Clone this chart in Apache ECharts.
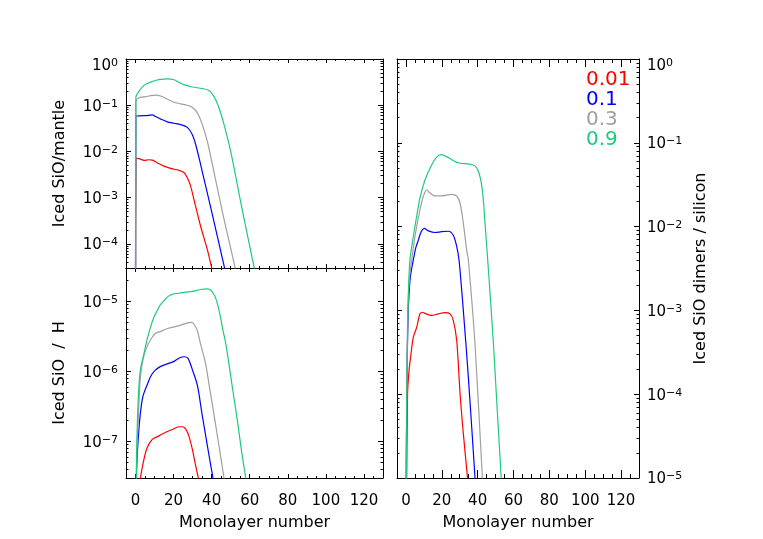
<!DOCTYPE html>
<html>
<head>
<meta charset="utf-8">
<title>Iced SiO vs monolayer number</title>
<script src="https://cdn.jsdelivr.net/npm/echarts@6/dist/echarts.min.js"></script>
<style>
  html, body { margin: 0; padding: 0; background: #fff; }
  #chart { width: 763px; height: 539px; }
</style>
</head>
<body>
<div id="chart"></div>
<script>
const FONT = 'DejaVu Sans';
const sizes = ['0.01', '0.1', '0.3', '0.9'];
const colors = ['#ff0000', '#0000ff', '#a0a0a0', '#1ecb7a'];

// top left: iced SiO / mantle
const mantleX001 = [0, 0.2, 0.9, 2.6, 4.4, 7, 8.8, 11.4, 14.9, 18.4, 22.8, 25.4, 27.2, 28.9, 30.7, 34.2, 37.7, 39.8, 42];
const mantleY001 = [3.2e-6, 6.9e-3, 7.1e-3, 6.8e-3, 6.4e-3, 6.6e-3, 6.5e-3, 5.7e-3, 4.8e-3, 4.3e-3, 3.9e-3, 3.5e-3, 2.7e-3, 1.8e-3, 9.1e-4, 2.4e-4, 7.6e-5, 3.3e-5, 1.4e-5];
const mantleX01 = [0, 0.2, 2.6, 5.3, 8.8, 10.5, 13.2, 16.7, 20.2, 23.7, 27.2, 29.8, 31.6, 34.2, 40, 46.7, 49];
const mantleY01 = [3.2e-6, 0.0575, 0.0589, 0.0596, 0.0617, 0.0569, 0.0501, 0.0437, 0.0407, 0.038, 0.0331, 0.0232, 0.0141, 5.2e-3, 5.0e-4, 3.1e-5, 1.26e-5];
const mantleX03 = [0, 0.2, 1.8, 4.4, 7, 10.5, 13.2, 16.7, 20.2, 23.7, 27.2, 29.8, 32.5, 35.1, 37.7, 40.4, 46, 52.3, 55];
const mantleY03 = [3.2e-6, 0.122, 0.145, 0.151, 0.158, 0.166, 0.158, 0.136, 0.116, 0.107, 0.1, 0.09, 0.0676, 0.038, 0.0166, 5.2e-3, 4.2e-4, 3.1e-5, 1e-5];
const mantleX09 = [0, 0.2, 1.8, 4.4, 7.9, 11.4, 14, 16.7, 20.2, 23, 25.4, 29.8, 35.1, 38.6, 41.2, 43.9, 46.5, 50, 56, 62.3, 65];
const mantleY09 = [3.2e-6, 0.151, 0.2, 0.269, 0.316, 0.351, 0.363, 0.372, 0.355, 0.309, 0.279, 0.248, 0.229, 0.207, 0.155, 0.0871, 0.038, 0.01, 5.6e-4, 3.1e-5, 8.9e-6];

// bottom left: iced SiO / H
const hX001 = [0, 1, 2, 2.6, 4.4, 6.1, 8.8, 12.3, 15.8, 19.3, 22.8, 24.6, 26.3, 28, 29.8, 31.6, 33, 35];
const hY001 = [1e-9, 6.3e-9, 1.78e-8, 3.0e-8, 5.5e-8, 8.1e-8, 1.07e-7, 1.2e-7, 1.35e-7, 1.48e-7, 1.62e-7, 1.62e-7, 1.51e-7, 1.2e-7, 7.8e-8, 4.5e-8, 3.0e-8, 1.58e-8];
const hX01 = [0, 0.5, 1, 2, 3, 4, 6, 8, 10, 13, 16, 20, 23, 25.5, 27.5, 29.8, 32.5, 35, 38, 40.7, 43];
const hY01 = [1e-9, 3.16e-8, 7.1e-8, 1.78e-7, 3.16e-7, 4.5e-7, 6.3e-7, 8.5e-7, 1.02e-6, 1.17e-6, 1.26e-6, 1.38e-6, 1.55e-6, 1.62e-6, 1.55e-6, 1.07e-6, 6.3e-7, 2.4e-7, 7.9e-8, 3.0e-8, 1.41e-8];
const hX03 = [0, 0.5, 1, 2, 2.6, 4, 6, 8.5, 10.5, 13, 16.7, 23, 27, 29.5, 31, 32.5, 34.2, 36.8, 38.6, 42, 46.5, 49];
const hY03 = [1e-9, 4.0e-8, 1.12e-7, 4.5e-7, 8.5e-7, 1.51e-6, 2.24e-6, 3.0e-6, 3.5e-6, 3.7e-6, 4.1e-6, 4.5e-6, 4.9e-6, 5.0e-6, 4.6e-6, 3.8e-6, 2.45e-6, 1.29e-6, 6.6e-7, 1.78e-7, 3.0e-8, 1.12e-8];
const hX09 = [0, 0.5, 1, 1.8, 2.6, 4.4, 6, 7.9, 9.5, 11.4, 13, 14.9, 17, 19.3, 23.7, 28.9, 34.2, 37.4, 39, 40.4, 41.8, 43, 44.3, 45.6, 47.4, 49.1, 51, 53.5, 55.5, 57.9, 60];
const hY09 = [1e-9, 5.0e-8, 2.0e-7, 6.3e-7, 1.07e-6, 1.78e-6, 2.8e-6, 4.3e-6, 5.8e-6, 7.4e-6, 8.9e-6, 1.02e-5, 1.17e-5, 1.26e-5, 1.32e-5, 1.38e-5, 1.48e-5, 1.51e-5, 1.48e-5, 1.36e-5, 1.17e-5, 9.3e-6, 6.6e-6, 4.3e-6, 2.5e-6, 1.26e-6, 5.6e-7, 2.0e-7, 7.9e-8, 3.0e-8, 1.26e-8];

// right: iced SiO dimers / silicon
const dX001 = [0, 0.4, 0.9, 1.7, 2.8, 4.1, 6, 7.8, 9.1, 11.6, 14.3, 18, 21.8, 24.6, 26.4, 28.3, 30.2, 32, 34.3, 35.5];
const dY001 = [3.2e-6, 1e-5, 1e-4, 1.9e-4, 3.0e-4, 4.8e-4, 6.3e-4, 9.1e-4, 9.5e-4, 9.0e-4, 8.7e-4, 9.1e-4, 9.4e-4, 9.1e-4, 7.6e-4, 4.4e-4, 1e-4, 3.4e-5, 1.02e-5, 5e-6];
const dX01 = [0, 0.3, 0.7, 1.3, 2.2, 3.2, 4.1, 5.5, 6.9, 8.5, 10.2, 12.5, 16.2, 19.9, 23.6, 26.4, 28.3, 29.6, 32, 34.8, 38.5, 40];
const dY01 = [3.2e-6, 3.16e-5, 2.5e-4, 1e-3, 2.24e-3, 3.16e-3, 4.0e-3, 5.6e-3, 6.9e-3, 8.7e-3, 9.5e-3, 8.9e-3, 8.5e-3, 8.7e-3, 8.8e-3, 7.9e-3, 5.8e-3, 4.0e-3, 1e-3, 1.6e-4, 1.02e-5, 3.2e-6];
const dX03 = [0, 0.3, 0.7, 1.3, 2.2, 3.2, 5, 7.8, 9.7, 11.6, 13.4, 16.2, 19.9, 25.5, 28.3, 30.2, 32, 33.9, 34.8, 38.5, 42.6, 44];
const dY03 = [3.2e-6, 5.0e-5, 4.0e-4, 1.41e-3, 2.8e-3, 4.0e-3, 7.6e-3, 0.0158, 0.0229, 0.0274, 0.0251, 0.0232, 0.0232, 0.0243, 0.0232, 0.019, 0.011, 5.2e-3, 4.0e-3, 4.0e-4, 1.02e-5, 3.2e-6];
const dX09 = [0, 0.5, 1, 1.5, 2.2, 3.5, 5, 7.8, 10.6, 14.3, 17.1, 19.6, 22.7, 26.4, 30.2, 34.8, 38.5, 40.8, 42.6, 44.1, 45.6, 48.8, 53.1, 55];
const dY09 = [3.2e-6, 1e-4, 7.9e-4, 2.0e-3, 4.0e-3, 6.3e-3, 0.01, 0.0219, 0.036, 0.0544, 0.0673, 0.0724, 0.0684, 0.0612, 0.057, 0.056, 0.053, 0.0433, 0.0274, 0.011, 4.0e-3, 4.0e-4, 1.02e-5, 3.2e-6];

const black = '#000';

// "10" with the exponent raised, only on whole decades
const powLabel = (v) => {
    const e = Math.log10(v);
    const r = Math.round(e);
    if (Math.abs(e - r) > 1e-6) return '';
    if (r === 0) return '{g| }\n{b|10}{s|0}';  // blank line pushes the top label down a little
    return '{b|10}{s|\u2212' + (-r) + '}';
}
const powRich = {
    b: { fontSize: 15, fontFamily: FONT, color: black, lineHeight: 18, padding: [2, 0, 0, 0], verticalAlign: 'bottom' },
    s: { fontSize: 11, fontFamily: FONT, color: black, lineHeight: 10, padding: [2, 0, 0, 0], verticalAlign: 'top' },
    g: { fontSize: 2, lineHeight: 12 }
}
const nameStyle = { fontSize: 16, fontFamily: FONT, color: black }

const xAxisPair = (gridIndex, tickLen, withLabels) => {
    const base = {
        type: 'value', gridIndex: gridIndex, min: -5, max: 130,
        splitNumber: 7, minInterval: 20, maxInterval: 20,
        axisLine: { show: true, onZero: false, lineStyle: { color: black, width: 1 } },
        axisTick: { show: true, inside: true, length: tickLen, lineStyle: { color: black } },
        minorTick: { show: true, splitNumber: 4, length: tickLen / 2, lineStyle: { color: black } },
        splitLine: { show: false },
        axisLabel: { show: false }
    }
    const bottom = Object.assign({}, base, { position: 'bottom' })
    if (withLabels) {
        bottom.axisLabel = {
            show: true, margin: 16, fontSize: 15, fontFamily: FONT, color: black,
            formatter: (v) => (v % 20 === 0 ? String(v) : '')
        }
        bottom.name = 'Monolayer number'
        bottom.nameLocation = 'middle'
        bottom.nameGap = 37
        bottom.nameTextStyle = nameStyle
    }
    const top = Object.assign({}, base, { position: 'top' })
    return [bottom, top]
}

const yAxisPair = (gridIndex, min, max, labelSide, name, gap) => {
    const base = {
        type: 'log', logBase: 10, gridIndex: gridIndex, min: min, max: max,
        axisLine: { show: true, onZero: false, lineStyle: { color: black, width: 1 } },
        axisTick: { show: true, inside: true, length: 5, lineStyle: { color: black } },
        minorTick: { show: true, splitNumber: 9, length: 2.5, lineStyle: { color: black } },
        splitLine: { show: false },
        axisLabel: { show: false }
    }
    const labelled = {
        axisLabel: { show: true, margin: 8, formatter: powLabel, rich: powRich },
        name: name, nameLocation: 'middle', nameGap: gap, nameRotate: 90,
        nameTextStyle: nameStyle
    }
    const left = Object.assign({}, base, { position: 'left' }, labelSide === 'left' ? labelled : {})
    const right = Object.assign({}, base, { position: 'right' }, labelSide === 'right' ? labelled : {})
    return [left, right]
}

const makeLine = (xs, ys, k, xi, yi) => ({
    type: 'line', name: sizes[k], xAxisIndex: xi, yAxisIndex: yi,
    data: xs.map((x, i) => [x, ys[i]]),
    symbol: 'none', smooth: 0.3, clip: true, silent: true,
    lineStyle: { color: colors[k], width: 1.2 },
    itemStyle: { color: colors[k] }
})

const chart = echarts.init(document.getElementById('chart'), null, { renderer: 'canvas' })

const option = {
    animation: false,
    backgroundColor: '#fff',
    grid: [
        { left: 126, top: 59, width: 257, height: 209, outerBoundsMode: 'none' },
        { left: 126, top: 268, width: 257, height: 210, outerBoundsMode: 'none' },
        { left: 397, top: 59, width: 242, height: 419, outerBoundsMode: 'none' }
    ],
    legend: {
        orient: 'vertical', left: 580, top: 70, padding: 0, itemGap: 0,
        itemWidth: 0, itemHeight: 0, selectedMode: false,
        textStyle: { fontSize: 20, fontFamily: FONT },
        data: sizes.map((s, k) => ({ name: s, textStyle: { color: colors[k] } }))
    },
    xAxis: [].concat(
        xAxisPair(0, 4, false),
        xAxisPair(1, 4, true),
        xAxisPair(2, 8, true)
    ),
    yAxis: [].concat(
        yAxisPair(0, 3e-5, 1, 'left', 'Iced SiO/mantle', 58),
        yAxisPair(1, 3e-8, 3e-5, 'left', 'Iced SiO  /  H', 58),
        yAxisPair(2, 1e-5, 1, 'right', 'Iced SiO dimers / silicon', 54)
    ),
    series: [
        makeLine(mantleX001, mantleY001, 0, 0, 0),
        makeLine(mantleX01, mantleY01, 1, 0, 0),
        makeLine(mantleX03, mantleY03, 2, 0, 0),
        makeLine(mantleX09, mantleY09, 3, 0, 0),
        makeLine(hX001, hY001, 0, 2, 2),
        makeLine(hX01, hY01, 1, 2, 2),
        makeLine(hX03, hY03, 2, 2, 2),
        makeLine(hX09, hY09, 3, 2, 2),
        makeLine(dX001, dY001, 0, 4, 5),
        makeLine(dX01, dY01, 1, 4, 5),
        makeLine(dX03, dY03, 2, 4, 5),
        makeLine(dX09, dY09, 3, 4, 5)
    ]
}

chart.setOption(option)
</script>
</body>
</html>
